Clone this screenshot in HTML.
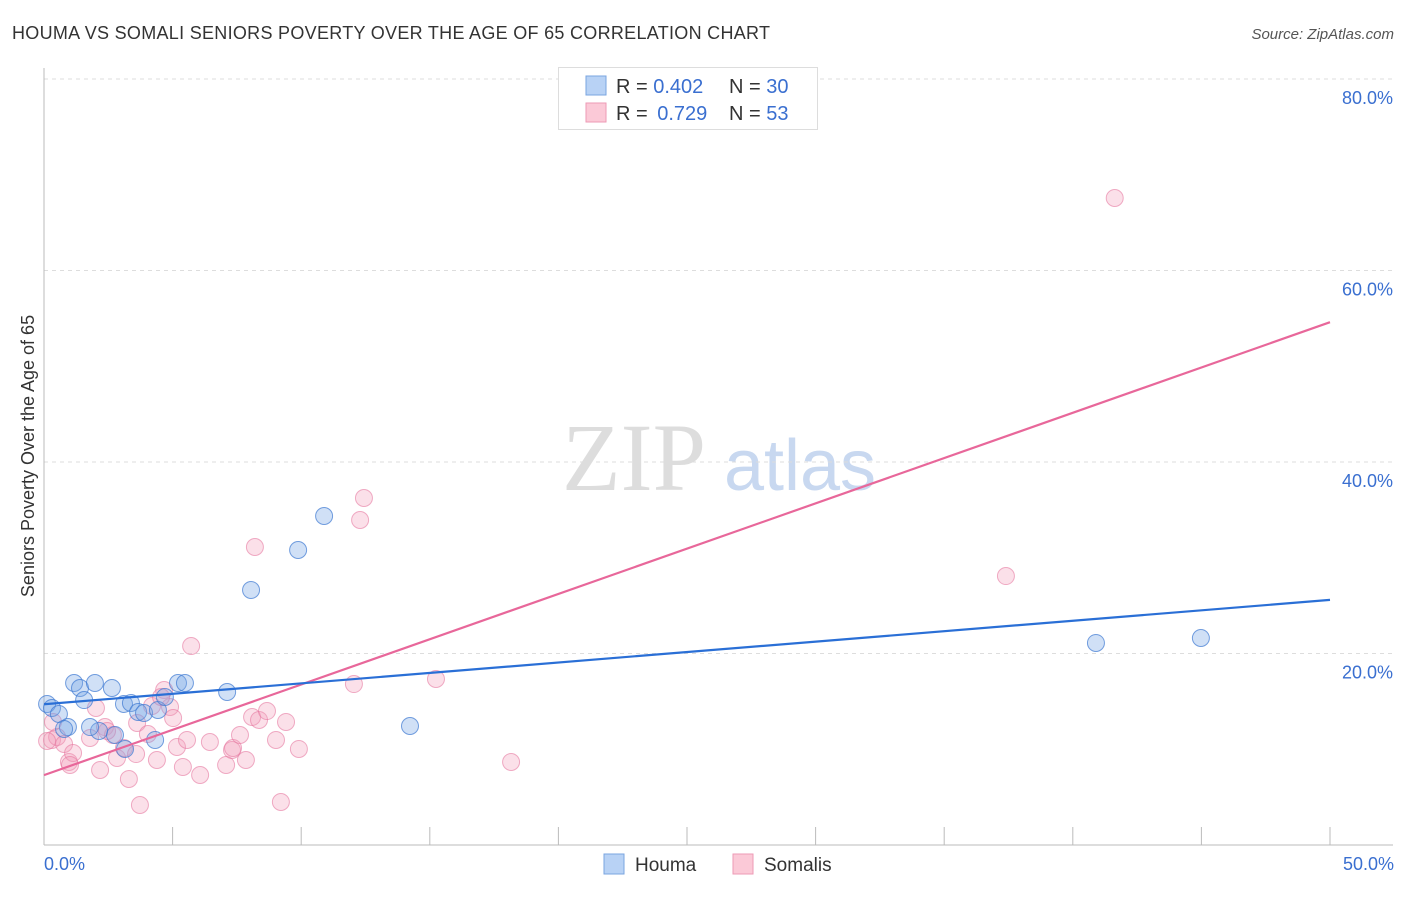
<!DOCTYPE html>
<html><head><meta charset="utf-8"><style>
body{margin:0;background:#fff;}
svg text{font-family:"Liberation Sans",sans-serif;}
</style></head><body>
<svg id="chart" width="1406" height="892" viewBox="0 0 1406 892" xmlns="http://www.w3.org/2000/svg">
<rect width="1406" height="892" fill="#fff"/>
<text x="12" y="39" font-size="18" fill="#333" textLength="758" lengthAdjust="spacing">HOUMA VS SOMALI SENIORS POVERTY OVER THE AGE OF 65 CORRELATION CHART</text>
<text x="1394" y="39" font-size="15" fill="#555" font-style="italic" text-anchor="end">Source: ZipAtlas.com</text>
<g>
<text x="634" y="490" font-size="96" style="font-family:'Liberation Serif',serif" fill="#ddd" text-anchor="middle">ZIP</text>
<text x="800" y="490" font-size="72" fill="#c8d8f0" text-anchor="middle">atlas</text>
</g>
<g id="grid"></g>
<g id="axes"></g>
<g id="marks"></g>
<text transform="translate(34,456) rotate(-90)" font-size="18" fill="#333" text-anchor="middle">Seniors Poverty Over the Age of 65</text>
<text x="44" y="870" font-size="18" fill="#3a6fd0">0.0%</text>
<text x="1394" y="870" font-size="18" fill="#3a6fd0" text-anchor="end">50.0%</text>
<g>
<rect x="558.5" y="67.5" width="259" height="62" fill="#fff" stroke="#ddd"/>
<rect x="586" y="76" width="20" height="19" fill="#b8d2f5" stroke="#7aa5e0"/>
<rect x="586" y="103" width="20" height="19" fill="#fbc9d7" stroke="#ee9ab5"/>
<text x="616" y="93" font-size="20" fill="#333">R = <tspan fill="#3a6fd0">0.402</tspan></text>
<text x="729" y="93" font-size="20" fill="#333">N = <tspan fill="#3a6fd0">30</tspan></text>
<text x="616" y="120" font-size="20" fill="#333">R = <tspan fill="#3a6fd0" dx="4">0.729</tspan></text>
<text x="729" y="120" font-size="20" fill="#333">N = <tspan fill="#3a6fd0">53</tspan></text>
</g>
<g>
<rect x="604" y="854" width="20" height="20" fill="#b8d2f5" stroke="#7aa5e0"/>
<text x="635" y="871" font-size="19" fill="#333">Houma</text>
<rect x="733" y="854" width="20" height="20" fill="#fbc9d7" stroke="#ee9ab5"/>
<text x="764" y="871" font-size="19" fill="#333">Somalis</text>
</g>
</svg>
<script>
const yTicks=[20,40,60,80];
const xTicks=[5,10,15,20,25,30,35,40,45,50];
const houmaX=[0.12,0.31,0.58,1.17,1.40,1.56,1.98,0.93,0.78,2.64,3.11,3.38,3.66,3.89,4.43,4.32,3.15,2.76,2.14,1.79,4.70,5.21,5.48,7.12,8.05,9.88,10.89,14.23,40.90,44.98];
const houmaY=[14.73,14.31,13.68,16.92,16.40,15.14,16.92,12.32,12.12,16.40,14.73,14.83,13.89,13.79,14.10,10.97,10.03,11.49,11.91,12.32,15.46,16.92,16.92,15.98,26.63,30.81,34.36,12.43,21.10,21.62];
const somaliX=[0.31,0.51,0.78,0.97,1.13,1.01,1.79,2.02,2.18,2.37,2.68,2.84,3.11,3.30,3.62,3.73,4.04,4.20,4.39,4.67,4.90,5.02,5.17,5.40,5.56,5.72,6.07,6.45,7.08,7.31,7.35,7.62,7.85,8.09,8.20,8.36,8.67,9.02,9.21,9.41,9.91,12.05,12.29,12.44,15.24,18.16,37.40,41.63,2.45,0.35,4.55,3.58,0.12];
const somaliY=[10.97,11.28,10.55,8.67,9.61,8.36,11.18,14.31,7.83,12.32,11.49,9.09,10.13,6.89,12.74,4.18,11.59,14.52,8.88,16.19,14.41,13.26,10.24,8.15,10.97,20.78,7.31,10.76,8.36,9.92,10.13,11.49,8.88,13.37,31.12,13.06,13.99,10.97,4.49,12.85,10.03,16.81,33.94,36.24,17.34,8.67,28.09,67.57,11.91,12.85,15.46,9.50,10.86];
const houmaLine=[14.7,25.6];
const somaliLine=[7.3,54.6];
const NS="http://www.w3.org/2000/svg";
const sx=v=>44+v/50*1286;
const sy=v=>845-v/20*191.5;
function mk(tag,attrs,parent){const e=document.createElementNS(NS,tag);for(const k in attrs)e.setAttribute(k,attrs[k]);document.getElementById(parent).appendChild(e);return e;}
yTicks.forEach(t=>{
  const l=mk('line',{x1:44,x2:1393,y1:sy(t),y2:sy(t),stroke:'#ddd','stroke-dasharray':'4,4'},'grid');
  
  
  const tx=mk('text',{x:1393,y:sy(t)+25,'font-size':18,fill:'#3a6fd0','text-anchor':'end'},'grid');
  tx.textContent=t.toFixed(1)+'%';
  
  
});
let a=mk('line',{x1:44,x2:44,y1:68,y2:845,stroke:'#bbb'},'axes');


a=mk('line',{x1:44,x2:1393,y1:845,y2:845,stroke:'#bbb'},'axes');


xTicks.forEach(t=>{
  const l=mk('line',{x1:sx(t),x2:sx(t),y1:827,y2:845,stroke:'#bbb'},'axes');
  
  
});
function pts(X,Y,fill,stroke,name){
  X.forEach((x,i)=>{
    const c=mk('circle',{cx:sx(x),cy:sy(Y[i]),r:8.5,fill:fill,stroke:stroke,'stroke-width':1},'marks');
    
    
  });
}
pts(somaliX,somaliY,'rgba(244,160,188,0.32)','rgba(230,120,160,0.6)','somali-point');
pts(houmaX,houmaY,'rgba(120,165,230,0.35)','rgba(60,120,210,0.7)','houma-point');
let ln=mk('line',{x1:sx(0),x2:sx(50),y1:sy(somaliLine[0]),y2:sy(somaliLine[1]),stroke:'#e8679a','stroke-width':2.2},'marks');


ln=mk('line',{x1:sx(0),x2:sx(50),y1:sy(houmaLine[0]),y2:sy(houmaLine[1]),stroke:'#2a6fd6','stroke-width':2.2},'marks');


</script>
</body></html>
